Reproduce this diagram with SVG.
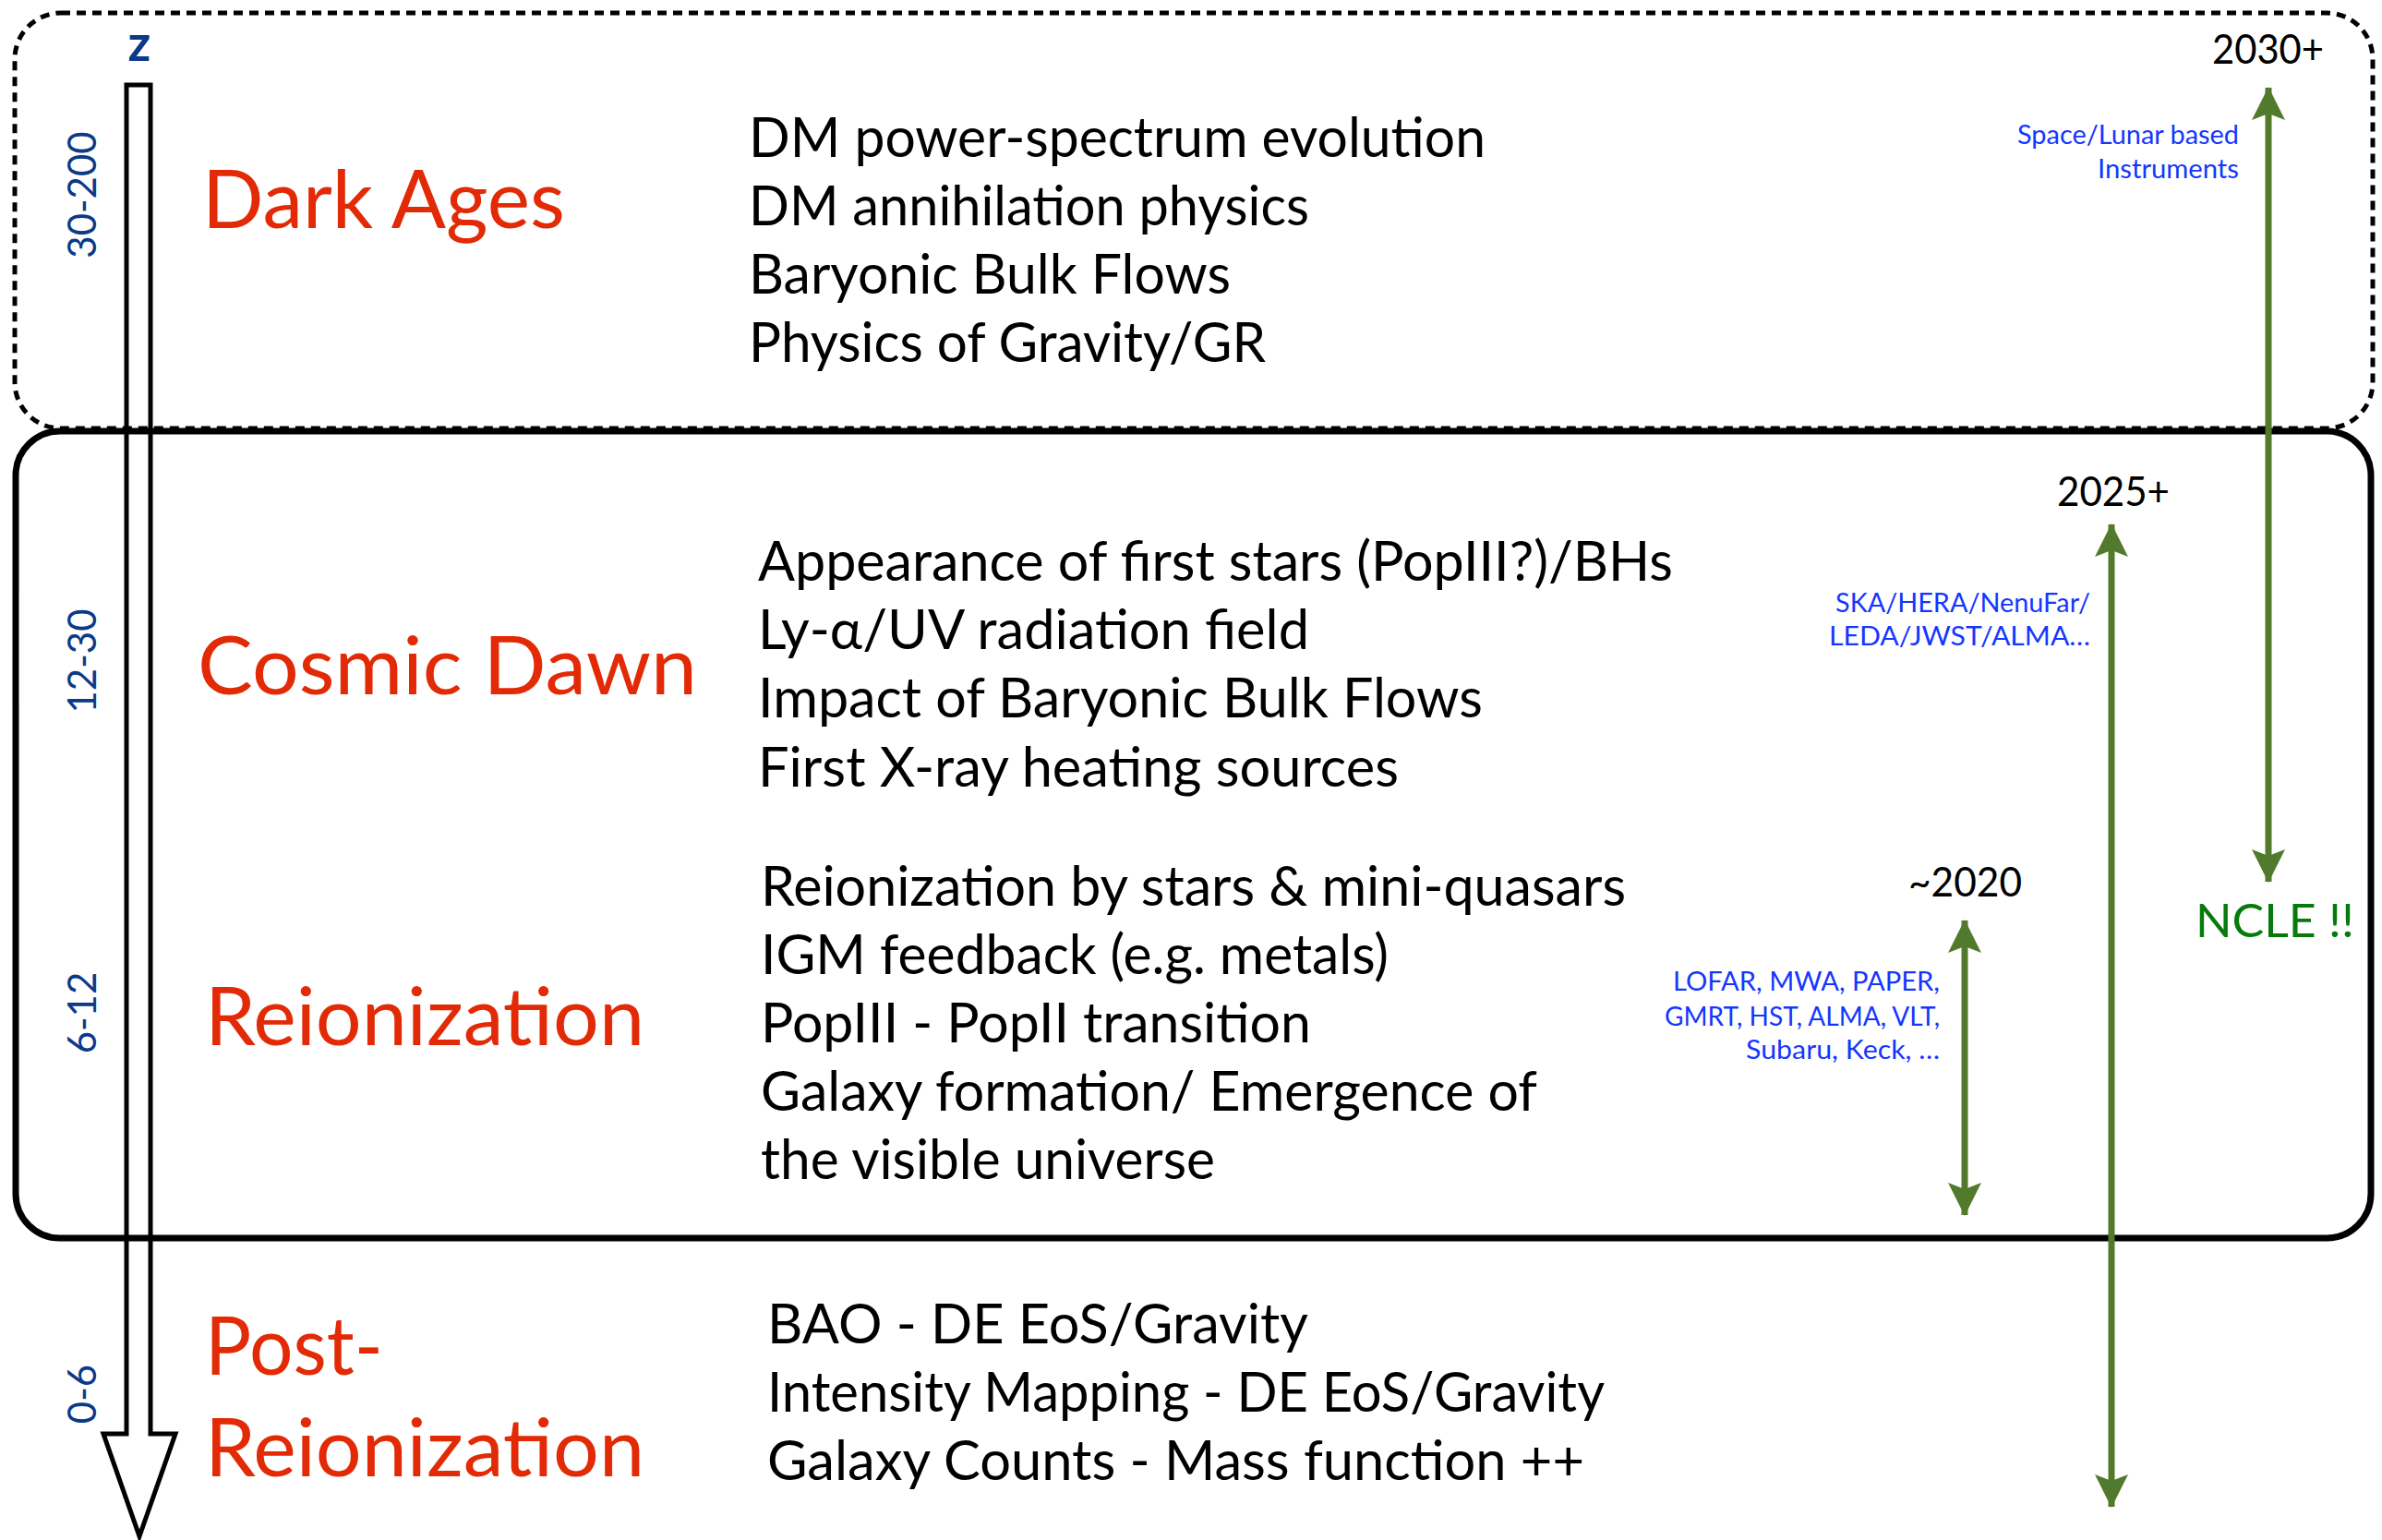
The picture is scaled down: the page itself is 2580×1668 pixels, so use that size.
<svg xmlns="http://www.w3.org/2000/svg" width="2580" height="1668" viewBox="0 0 2580 1668">
<style>
.era{font-family:Lato,"Open Sans","Liberation Sans",sans-serif;fill:#e22a06;font-size:88px}
.body{font-family:Lato,"Open Sans","Liberation Sans",sans-serif;fill:#000;font-size:60px}
.rng{font-family:Lato,"Open Sans","Liberation Sans",sans-serif;fill:#0b3a88;font-size:42px}
.inst{font-family:Lato,"Open Sans","Liberation Sans",sans-serif;fill:#1436ff;font-size:29px}
.year{font-family:Lato,"Open Sans","Liberation Sans",sans-serif;fill:#000;font-size:44px}
.ncle{font-family:Lato,"Open Sans","Liberation Sans",sans-serif;fill:#087a0c;font-size:50px}
.garrow{stroke:#527a2c;stroke-width:7;fill:none;marker-start:url(#gh);marker-end:url(#gh)}
</style>
<defs>
<marker id="gh" viewBox="0 0 36 36" refX="35" refY="18" markerWidth="36" markerHeight="36" markerUnits="userSpaceOnUse" orient="auto-start-reverse">
<path d="M0,0 L36,18 L0,36 L7,18 z" fill="#527a2c"/>
</marker>
</defs>
<rect width="2580" height="1668" fill="#fff"/>
<g id="dark-ages-box">
<rect x="16" y="14" width="2554" height="450" rx="50" ry="50" fill="none" stroke="#000" stroke-width="5" stroke-dasharray="10 7"/>
</g>
<g id="cosmic-box">
<rect x="17" y="467" width="2551" height="874" rx="48" ry="48" fill="none" stroke="#000" stroke-width="7"/>
</g>
<g id="z-axis">
<path d="M137,92 L163,92 L163,1553 L190,1553 L151,1664 L112,1553 L137,1553 Z" fill="none" stroke="#000" stroke-width="5" stroke-linejoin="miter"/>
<text x="151" y="66" text-anchor="middle" class="rng" style="font-weight:bold;font-size:54px">z</text>
</g>
<g id="ranges">
<text class="rng" text-anchor="middle" transform="translate(104,211) rotate(-90)">30-200</text>
<text class="rng" text-anchor="middle" transform="translate(104,716) rotate(-90)">12-30</text>
<text class="rng" text-anchor="middle" transform="translate(104,1097) rotate(-90)">6-12</text>
<text class="rng" text-anchor="middle" transform="translate(104,1510) rotate(-90)">0-6</text>
</g>
<g id="dark-ages">
<text class="era" x="219" y="247" textLength="393" lengthAdjust="spacingAndGlyphs">Dark Ages</text>
<text class="body" x="811" y="170" textLength="798" lengthAdjust="spacingAndGlyphs">DM power-spectrum evolution</text>
<text class="body" x="811" y="244" textLength="607" lengthAdjust="spacingAndGlyphs">DM annihilation physics</text>
<text class="body" x="811" y="318" textLength="522" lengthAdjust="spacingAndGlyphs">Baryonic Bulk Flows</text>
<text class="body" x="811" y="392" textLength="560" lengthAdjust="spacingAndGlyphs">Physics of Gravity/GR</text>
</g>
<g id="cosmic-dawn">
<text class="era" x="214" y="752" textLength="541" lengthAdjust="spacingAndGlyphs">Cosmic Dawn</text>
<text class="body" x="821" y="629" textLength="991" lengthAdjust="spacingAndGlyphs">Appearance of first stars (PopIII?)/BHs</text>
<text class="body" x="821" y="703" textLength="597" lengthAdjust="spacingAndGlyphs">Ly-α/UV radiation field</text>
<text class="body" x="821" y="777" textLength="785" lengthAdjust="spacingAndGlyphs">Impact of Baryonic Bulk Flows</text>
<text class="body" x="821" y="852" textLength="694" lengthAdjust="spacingAndGlyphs">First X-ray heating sources</text>
</g>
<g id="reionization">
<text class="era" x="222" y="1132" textLength="476" lengthAdjust="spacingAndGlyphs">Reionization</text>
<text class="body" x="824" y="981" textLength="937" lengthAdjust="spacingAndGlyphs">Reionization by stars &amp; mini-quasars</text>
<text class="body" x="824" y="1055" textLength="680" lengthAdjust="spacingAndGlyphs">IGM feedback (e.g. metals)</text>
<text class="body" x="824" y="1129" textLength="596" lengthAdjust="spacingAndGlyphs">PopIII - PopII transition</text>
<text class="body" x="824" y="1203" textLength="841" lengthAdjust="spacingAndGlyphs">Galaxy formation/ Emergence of</text>
<text class="body" x="824" y="1277" textLength="492" lengthAdjust="spacingAndGlyphs">the visible universe</text>
</g>
<g id="post-reionization">
<text class="era" x="222" y="1489" textLength="193" lengthAdjust="spacingAndGlyphs">Post-</text>
<text class="era" x="222" y="1599" textLength="476" lengthAdjust="spacingAndGlyphs">Reionization</text>
<text class="body" x="831" y="1455" textLength="586" lengthAdjust="spacingAndGlyphs">BAO - DE EoS/Gravity</text>
<text class="body" x="831" y="1529" textLength="907" lengthAdjust="spacingAndGlyphs">Intensity Mapping - DE EoS/Gravity</text>
<text class="body" x="831" y="1603" textLength="885" lengthAdjust="spacingAndGlyphs">Galaxy Counts - Mass function ++</text>
</g>
<g id="instruments-2030">
<text class="year" x="2396" y="69" textLength="121" lengthAdjust="spacingAndGlyphs">2030+</text>
<text class="inst" x="2185" y="156" textLength="240" lengthAdjust="spacingAndGlyphs">Space/Lunar based</text>
<text class="inst" x="2272" y="193" textLength="153" lengthAdjust="spacingAndGlyphs">Instruments</text>
</g>
<g id="instruments-2025">
<text class="year" x="2228" y="548" textLength="122" lengthAdjust="spacingAndGlyphs">2025+</text>
<text class="inst" x="1988" y="663" textLength="276" lengthAdjust="spacingAndGlyphs">SKA/HERA/NenuFar/</text>
<text class="inst" x="1981" y="699" textLength="283" lengthAdjust="spacingAndGlyphs">LEDA/JWST/ALMA…</text>
</g>
<g id="instruments-2020">
<text class="year" x="2067" y="971" textLength="123" lengthAdjust="spacingAndGlyphs">~2020</text>
<text class="inst" x="1812" y="1073" textLength="289" lengthAdjust="spacingAndGlyphs">LOFAR, MWA, PAPER,</text>
<text class="inst" x="1803" y="1111" textLength="298" lengthAdjust="spacingAndGlyphs">GMRT, HST, ALMA, VLT,</text>
<text class="inst" x="1891" y="1147" textLength="210" lengthAdjust="spacingAndGlyphs">Subaru, Keck, …</text>
</g>
<g id="ncle">
<text class="ncle" x="2378" y="1015" textLength="172" lengthAdjust="spacingAndGlyphs">NCLE !!</text>
</g>
<g id="connectors">
<line class="garrow" x1="2457" y1="95" x2="2457" y2="955"/>
<line class="garrow" x1="2287" y1="568" x2="2287" y2="1632"/>
<line class="garrow" x1="2128" y1="997" x2="2128" y2="1316"/>
</g>
</svg>
